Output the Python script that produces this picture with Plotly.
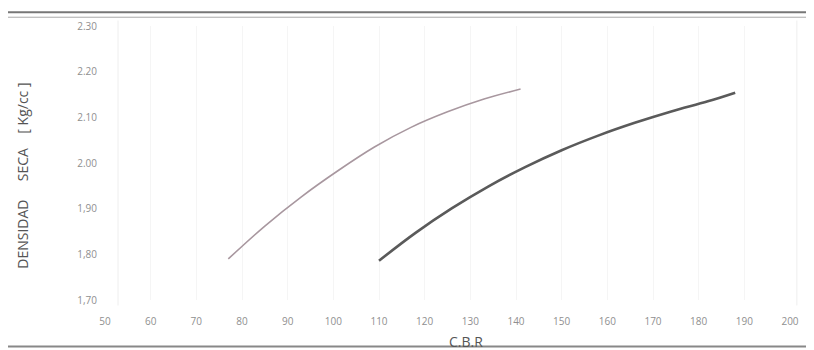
import plotly.graph_objects as go

# Data
curve_a_cbr = [77, 85, 93, 101, 109, 117, 125, 133, 141]
curve_a_dens = [1.790, 1.862, 1.926, 1.983, 2.035, 2.078, 2.112, 2.140, 2.162]

curve_b_cbr = [110, 118, 126, 134, 142, 150, 158, 166, 174, 182, 188]
curve_b_dens = [1.786, 1.847, 1.901, 1.949, 1.991, 2.028, 2.060, 2.088, 2.113, 2.135, 2.154]

x_ticks = list(range(50, 201, 10))
x_tick_labels = [str(v) for v in x_ticks]
y_ticks = [1.70, 1.80, 1.90, 2.00, 2.10, 2.20, 2.30]
y_tick_labels = ["1,70", "1,80", "1,90", "2.00", "2.10", "2.20", "2.30"]

FONT = "Open Sans, DejaVu Sans, sans-serif"

fig = go.Figure()
fig.add_trace(go.Scatter(x=curve_a_cbr, y=curve_a_dens, mode="lines",
                         line=dict(color="#a8979f", width=1.6, shape="spline", smoothing=1.0),
                         showlegend=False))
fig.add_trace(go.Scatter(x=curve_b_cbr, y=curve_b_dens, mode="lines",
                         line=dict(color="#5a5a5a", width=2.6, shape="spline", smoothing=1.0),
                         showlegend=False))

fig.update_layout(
    width=814, height=350,
    margin=dict(l=97, r=32, t=10, b=58),
    paper_bgcolor="white", plot_bgcolor="white",
    font=dict(family=FONT, color="#8f8f8f", size=10),
    xaxis=dict(range=[50, 200], tickvals=x_ticks, ticktext=x_tick_labels,
               showgrid=True, gridcolor="#f5f5f5", gridwidth=1, zeroline=False,
               showline=False, ticks="", ticklabelstandoff=14,
               tickfont=dict(size=10, color="#8f8f8f")),
    yaxis=dict(range=[1.70, 2.30], tickvals=y_ticks, ticktext=y_tick_labels,
               showgrid=False, zeroline=False, showline=False, ticks="",
               ticklabelstandoff=7, tickfont=dict(size=10, color="#8f8f8f")),
    annotations=[
        dict(text="DENSIDAD&nbsp;&nbsp;&nbsp;&nbsp;&nbsp;SECA&nbsp;&nbsp;&nbsp;&nbsp;[ Kg/cc ]", xref="paper", yref="paper",
             x=-0.121, y=0.454, xanchor="center", yanchor="middle", textangle=-90, showarrow=False,
             font=dict(size=14, color="#555555", family=FONT)),
        dict(text="C.B.R", xref="paper", yref="paper", x=0.527, y=-0.15,
             xanchor="center", yanchor="middle",
             showarrow=False, font=dict(size=14, color="#555555", family=FONT)),
    ],
    shapes=[
        dict(type="line", xref="paper", yref="paper", x0=-0.16, x1=1.04, y0=1.05, y1=1.05,
             line=dict(color="#777777", width=2)),
        dict(type="line", xref="paper", yref="paper", x0=-0.16, x1=1.04, y0=1.032, y1=1.032,
             line=dict(color="#aaaaaa", width=1)),
        dict(type="line", xref="paper", yref="paper", x0=-0.16, x1=1.04, y0=-0.17, y1=-0.17,
             line=dict(color="#888888", width=2)),
        dict(type="line", xref="paper", yref="paper", x0=0.019, x1=0.019, y0=-0.02, y1=1.02,
             line=dict(color="#eeeeee", width=1)),
        dict(type="line", xref="paper", yref="paper", x0=1.01, x1=1.01, y0=-0.02, y1=1.02,
             line=dict(color="#eeeeee", width=1)),
    ],
)

fig.write_html("out.html")
